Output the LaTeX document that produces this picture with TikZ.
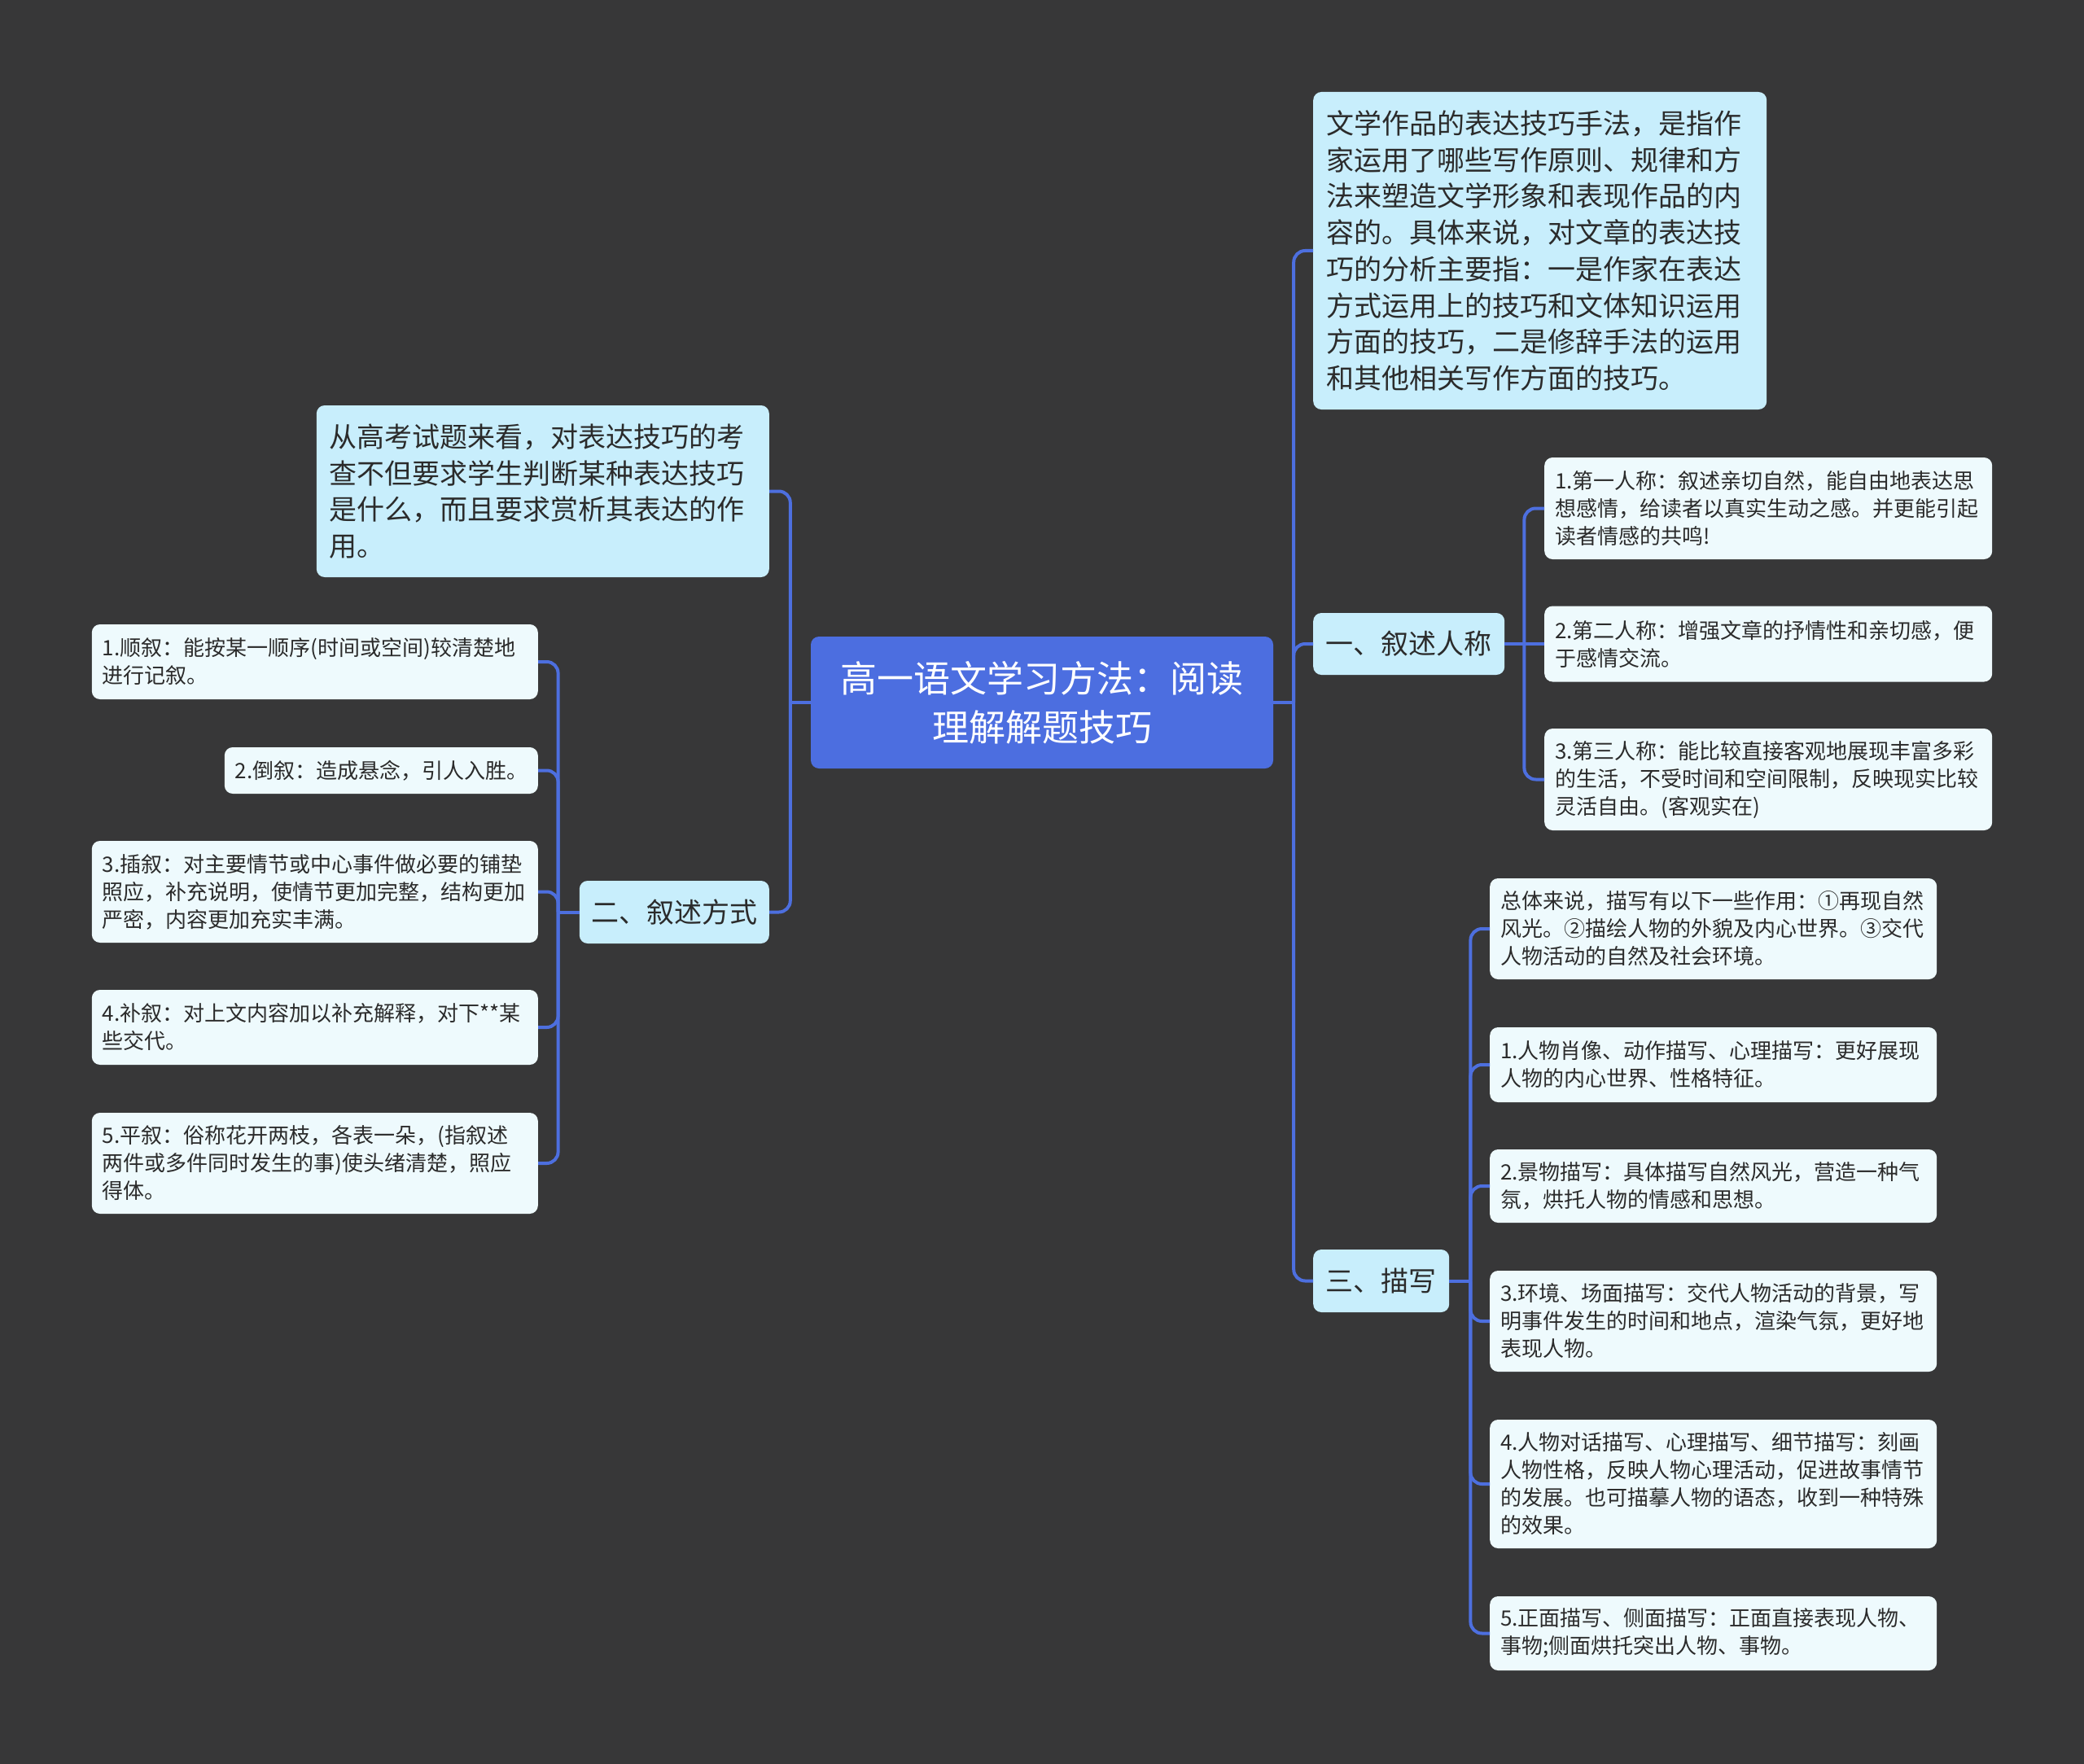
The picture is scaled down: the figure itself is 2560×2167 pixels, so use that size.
\documentclass[tikz,border=0pt]{standalone}
\usepackage{fontspec}
\newfontfamily\cjk{Noto Sans CJK SC}
\definecolor{bgc}{HTML}{373738}
\definecolor{linec}{HTML}{4D6FDF}
\definecolor{cfill}{HTML}{4C6EE0}
\definecolor{lonefill}{HTML}{C8EEFC}
\definecolor{leaffill}{HTML}{EEFAFD}
\definecolor{txt}{HTML}{2B2B2B}
\tikzset{
  leaf/.style={fill=leaffill, rounded corners=10, inner xsep=13, inner ysep=0, align=left,
    font=\cjk\fontsize{26}{34}\selectfont, text=txt},
  lone/.style={fill=lonefill, rounded corners=10, inner xsep=16, inner ysep=0, align=left,
    font=\cjk\fontsize{34}{44.7}\selectfont, text=txt},
  lonec/.style={fill=lonefill, rounded corners=10, inner xsep=8, inner ysep=0, align=center,
    font=\cjk\fontsize{34}{44.7}\selectfont, text=txt},
  rootbox/.style={fill=cfill, rounded corners=10, inner xsep=24, inner ysep=0, align=center,
    font=\cjk\fontsize{45}{60}\selectfont, text=white},
  conn/.style={draw=linec, line width=4, rounded corners=14}
}
\begin{document}
\begin{tikzpicture}[x=1pt,y=-1pt]
\useasboundingbox (0,0) rectangle (2560,2167);
\fill[bgc] (0,0) rectangle (2560,2167);

% root
\node[rootbox, text width=520, minimum height=162] (c) at (1280,863)
  {高一语文学习方法：阅读\\理解解题技巧};

% right level 1
\node[lone, anchor=west, text width=525, minimum height=390] (t1) at (1613,308)
  {文学作品的表达技巧手法，是指作\\家运用了哪些写作原则、规律和方\\法来塑造文学形象和表现作品的内\\容的。具体来说，对文章的表达技\\巧的分析主要指：一是作家在表达\\方式运用上的技巧和文体知识运用\\方面的技巧，二是修辞手法的运用\\和其他相关写作方面的技巧。};
\node[lonec, anchor=west, text width=219, minimum height=76] (r1) at (1613,791) {一、叙述人称};
\node[lonec, anchor=west, text width=151, minimum height=77] (r3) at (1613,1573.5) {三、描写};

% left level 1
\node[lone, anchor=east, text width=524, minimum height=211] (l0) at (945,603.5)
  {从高考试题来看，对表达技巧的考\\查不但要求学生判断某种表达技巧\\是什么，而且要求赏析其表达的作\\用。};
\node[lonec, anchor=east, text width=217, minimum height=77] (l2) at (945,1120.5) {二、叙述方式};

% r1 children
\node[leaf, anchor=west, text width=524, minimum height=125] (a1) at (1897,624.5)
  {1.第一人称：叙述亲切自然，能自由地表达思\\想感情，给读者以真实生动之感。并更能引起\\读者情感的共鸣!};
\node[leaf, anchor=west, text width=524, minimum height=93] (a2) at (1897,791)
  {2.第二人称：增强文章的抒情性和亲切感，便\\于感情交流。};
\node[leaf, anchor=west, text width=524, minimum height=125] (a3) at (1897,957.5)
  {3.第三人称：能比较直接客观地展现丰富多彩\\的生活，不受时间和空间限制，反映现实比较\\灵活自由。(客观实在)};

% r3 children
\node[leaf, anchor=west, text width=523, minimum height=124] (b0) at (1830,1141)
  {总体来说，描写有以下一些作用：①再现自然\\风光。②描绘人物的外貌及内心世界。③交代\\人物活动的自然及社会环境。};
\node[leaf, anchor=west, text width=523, minimum height=92] (b1) at (1830,1308)
  {1.人物肖像、动作描写、心理描写：更好展现\\人物的内心世界、性格特征。};
\node[leaf, anchor=west, text width=523, minimum height=90] (b2) at (1830,1457)
  {2.景物描写：具体描写自然风光，营造一种气\\氛，烘托人物的情感和思想。};
\node[leaf, anchor=west, text width=523, minimum height=124] (b3) at (1830,1623)
  {3.环境、场面描写：交代人物活动的背景，写\\明事件发生的时间和地点，渲染气氛，更好地\\表现人物。};
\node[leaf, anchor=west, text width=523, minimum height=158] (b4) at (1830,1823)
  {4.人物对话描写、心理描写、细节描写：刻画\\人物性格，反映人物心理活动，促进故事情节\\的发展。也可描摹人物的语态，收到一种特殊\\的效果。};
\node[leaf, anchor=west, text width=523, minimum height=91] (b5) at (1830,2006.5)
  {5.正面描写、侧面描写：正面直接表现人物、\\事物;侧面烘托突出人物、事物。};

% l2 children
\node[leaf, anchor=east, text width=522, minimum height=92] (d1) at (661,813)
  {1.顺叙：能按某一顺序(时间或空间)较清楚地\\进行记叙。};
\node[leaf, anchor=east, text width=359, minimum height=57] (d2) at (661,946.5)
  {2.倒叙：造成悬念，引人入胜。};
\node[leaf, anchor=east, text width=522, minimum height=125] (d3) at (661,1095.5)
  {3.插叙：对主要情节或中心事件做必要的铺垫\\照应，补充说明，使情节更加完整，结构更加\\严密，内容更加充实丰满。};
\node[leaf, anchor=east, text width=522, minimum height=92] (d4) at (661,1262)
  {4.补叙：对上文内容加以补充解释，对下**某\\些交代。};
\node[leaf, anchor=east, text width=522, minimum height=124] (d5) at (661,1429)
  {5.平叙：俗称花开两枝，各表一朵，(指叙述\\两件或多件同时发生的事)使头绪清楚，照应\\得体。};

% junctions
\coordinate (rj) at ([xshift=25]c.east);
\coordinate (lj) at ([xshift=-25]c.west);
\coordinate (j1) at ([xshift=24]r1.east);
\coordinate (j3) at ([xshift=26]r3.east);
\coordinate (j2) at ([xshift=-26]l2.west);

% connectors
\draw[conn] (c.east) -- (rj);
\draw[conn] (rj) |- (t1.west);
\draw[conn] (rj) |- (r1.west);
\draw[conn] (rj) |- (r3.west);
\draw[conn] (c.west) -- (lj);
\draw[conn] (lj) |- (l0.east);
\draw[conn] (lj) |- (l2.east);
\draw[conn] (r1.east) -- (j1);
\draw[conn] (j1) |- (a1.west);
\draw[conn] (j1) -- (a2.west);
\draw[conn] (j1) |- (a3.west);
\draw[conn] (r3.east) -- (j3);
\foreach \n in {b0,b1,b2,b3,b4,b5} \draw[conn] (j3) |- (\n.west);
\draw[conn] (l2.west) -- (j2);
\foreach \n in {d1,d2,d3,d4,d5} \draw[conn] (j2) |- (\n.east);
\end{tikzpicture}
\end{document}
